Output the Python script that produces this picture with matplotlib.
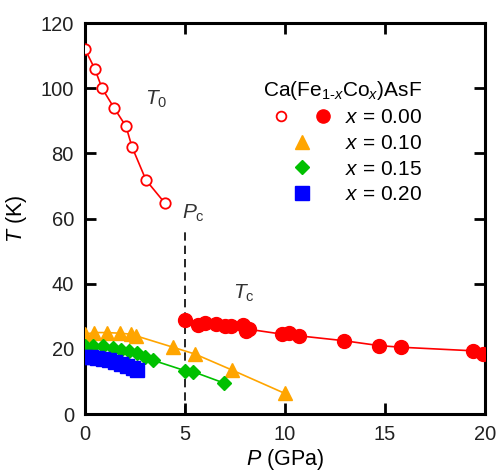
import matplotlib
matplotlib.use("Agg")
import matplotlib.pyplot as plt
from matplotlib.lines import Line2D
from matplotlib.legend_handler import HandlerTuple

plt.rcParams["font.family"] = ["Liberation Sans", "DejaVu Sans"]
plt.rcParams["mathtext.fontset"] = "custom"
plt.rcParams["mathtext.rm"] = "Liberation Sans"
plt.rcParams["mathtext.it"] = "Liberation Sans:italic"

# T0 (open circles), x = 0.00
p_t0 = [0.0, 0.5, 0.85, 1.45, 2.05, 2.35, 3.05, 4.0]
t_t0 = [112, 105.8, 100, 94, 88.3, 82, 71.8, 64.7]

# Tc, x = 0.00
p_00 = [5.0, 5.66, 6.0, 6.57, 6.98, 7.3, 7.9, 8.05, 8.2, 9.87, 10.2, 10.7, 12.95, 14.7, 15.8, 19.4, 19.9]
t_00 = [28.9, 27.3, 27.9, 27.6, 27.1, 26.9, 27.3, 25.6, 26.0, 24.5, 24.9, 24.0, 22.5, 21.0, 20.5, 19.4, 18.4]

# x = 0.10
p_10 = [0.0, 0.45, 1.1, 1.75, 2.3, 2.55, 4.4, 5.5, 7.35, 10.0]
t_10 = [24.5, 25.0, 25.0, 24.8, 24.5, 24.0, 20.5, 18.4, 13.5, 6.3]

# x = 0.15
p_15 = [0.0, 0.4, 0.9, 1.4, 1.8, 2.2, 2.6, 3.0, 3.4, 5.0, 5.4, 6.95]
t_15 = [21.0, 21.0, 20.8, 20.2, 19.7, 19.2, 18.6, 17.5, 16.5, 13.3, 13.0, 9.5]

# x = 0.20
p_20 = [0.0, 0.3, 0.6, 0.9, 1.2, 1.5, 1.8, 2.1, 2.4, 2.6]
t_20 = [17.5, 17.4, 17.3, 17.0, 16.6, 16.0, 15.3, 14.8, 14.0, 13.6]

red = "#ff0000"
orange = "#ffa500"
green = "#00c000"
blue = "#0000ff"

fig = plt.figure(figsize=(5.0, 4.71), dpi=100)
ax = fig.add_axes([0.17, 0.121, 0.80, 0.830])

ax.plot(p_t0, t_t0, "-", color=red, lw=1.2, marker="o", ms=7.5,
        mfc="white", mec=red, mew=1.3, zorder=3)
ax.plot(p_00, t_00, "-", color=red, lw=1.2, marker="o", ms=10, mfc=red, mec=red, zorder=3)
ax.plot(p_10, t_10, "-", color=orange, lw=1.2, marker="^", ms=10, mfc=orange, mec=orange, zorder=3)
ax.plot(p_15, t_15, "-", color=green, lw=1.2, marker="D", ms=7, mfc=green, mec=green, zorder=3)
ax.plot(p_20, t_20, "-", color=blue, lw=1.2, marker="s", ms=10, mfc=blue, mec=blue, zorder=3)

ax.plot([5, 5], [0, 57], "--", color="black", lw=1.2, dashes=(5, 3), zorder=2)

ax.text(3.0, 95, r"$T_0$", fontsize=15, color="#333333")
ax.text(4.85, 60, r"$P_{\rm c}$", fontsize=15, color="#333333")
ax.text(7.4, 35.5, r"$T_{\rm c}$", fontsize=15, color="#333333")

ax.set_xlim(0, 20)
ax.set_ylim(0, 120)
ax.set_xticks([0, 5, 10, 15, 20])
ax.set_yticks([0, 20, 40, 60, 80, 100, 120])
ax.tick_params(direction="in", length=8, width=2, labelsize=14.5, pad=8,
               top=True, right=True, colors="black", labelcolor="#222222")
for s in ax.spines.values():
    s.set_linewidth(2.2)
ax.set_xlabel(r"$P$ (GPa)", fontsize=15.5, labelpad=2)
ax.set_ylabel(r"$T$ (K)", fontsize=15.5, labelpad=8)

h_open = Line2D([], [], ls="none", marker="o", ms=7, mfc="white", mec=red, mew=1.3)
h_full = Line2D([], [], ls="none", marker="o", ms=9.5, mfc=red, mec=red)
h_10 = Line2D([], [], ls="none", marker="^", ms=9.5, mfc=orange, mec=orange)
h_15 = Line2D([], [], ls="none", marker="D", ms=7, mfc=green, mec=green)
h_20 = Line2D([], [], ls="none", marker="s", ms=10, mfc=blue, mec=blue)
leg = ax.legend([(h_open, h_full), h_10, h_15, h_20],
                [r"$x$ = 0.00", r"$x$ = 0.10", r"$x$ = 0.15", r"$x$ = 0.20"],
                handler_map={tuple: HandlerTuple(ndivide=None, pad=1.0)},
                title=r"Ca(Fe$_{1\text{-}x}$Co$_x$)AsF", title_fontsize=15, fontsize=15,
                loc="upper right", bbox_to_anchor=(0.88, 0.895), frameon=False,
                handlelength=3.0, handletextpad=0.6, labelspacing=0.32,
                alignment="right", borderpad=0.2)

fig.savefig("out.png", dpi=100)
